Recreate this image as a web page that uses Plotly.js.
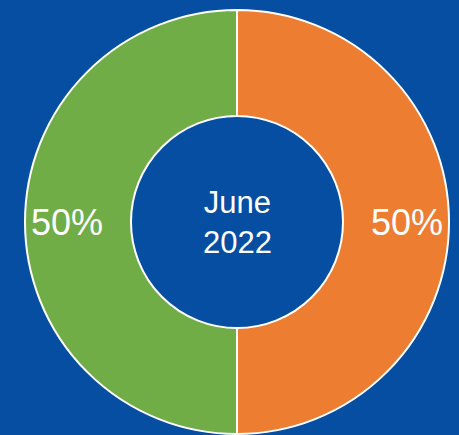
<!DOCTYPE html>
<html>
<head>
<meta charset="utf-8">
<script src="https://cdn.plot.ly/plotly-3.0.1.min.js"></script>
<style>html,body{margin:0;padding:0;background:#054EA2;}</style>
</head>
<body>
<div id="chart" style="width:459px;height:435px;"></div>
<script>
const labels = ["Orange", "Green"];
const values = [50, 50];
const colors = ["#ED7D31", "#70AD47"];
const centerText = "June<br>2022";

// label positions derived from the data (mid-angle of each slice, clockwise from 12 o'clock)
const total = values.reduce((a, b) => a + b, 0);
const labelRadius = 0.80; // fraction of the pie radius
let cum = 0;
const labelAnnotations = values.map(v => {
  const mid = (cum + v / 2) / total * 2 * Math.PI;
  cum += v;
  return {
    text: Math.round(v / total * 100) + "%",
    x: 0.5 + 0.5 * labelRadius * Math.sin(mid),
    y: 0.5 + 0.5 * labelRadius * Math.cos(mid),
    xref: "paper", yref: "paper", showarrow: false,
    xanchor: "center", yanchor: "middle",
    font: {family: "Liberation Sans, Arial, sans-serif", size: 36, color: "#FFFFFF"}
  };
});

Plotly.newPlot("chart", [{
  type: "pie",
  labels: labels,
  values: values,
  hole: 0.5,
  sort: false,
  direction: "clockwise",
  rotation: 0,
  marker: {colors: colors, line: {color: "#FFFFFF", width: 2}},
  textinfo: "none",
  showlegend: false,
  hoverinfo: "none"
}], {
  width: 459, height: 435,
  margin: {l: 25, r: 10, t: 10, b: 1},
  paper_bgcolor: "#054EA2",
  plot_bgcolor: "#054EA2",
  showlegend: false,
  annotations: labelAnnotations.concat([{
    text: centerText, x: 0.5, y: 0.5, xref: "paper", yref: "paper",
    showarrow: false,
    font: {family: "Liberation Sans, Arial, sans-serif", size: 31, color: "#FFFFFF"}
  }])
}, {displayModeBar: false, staticPlot: true});
</script>
</body>
</html>
